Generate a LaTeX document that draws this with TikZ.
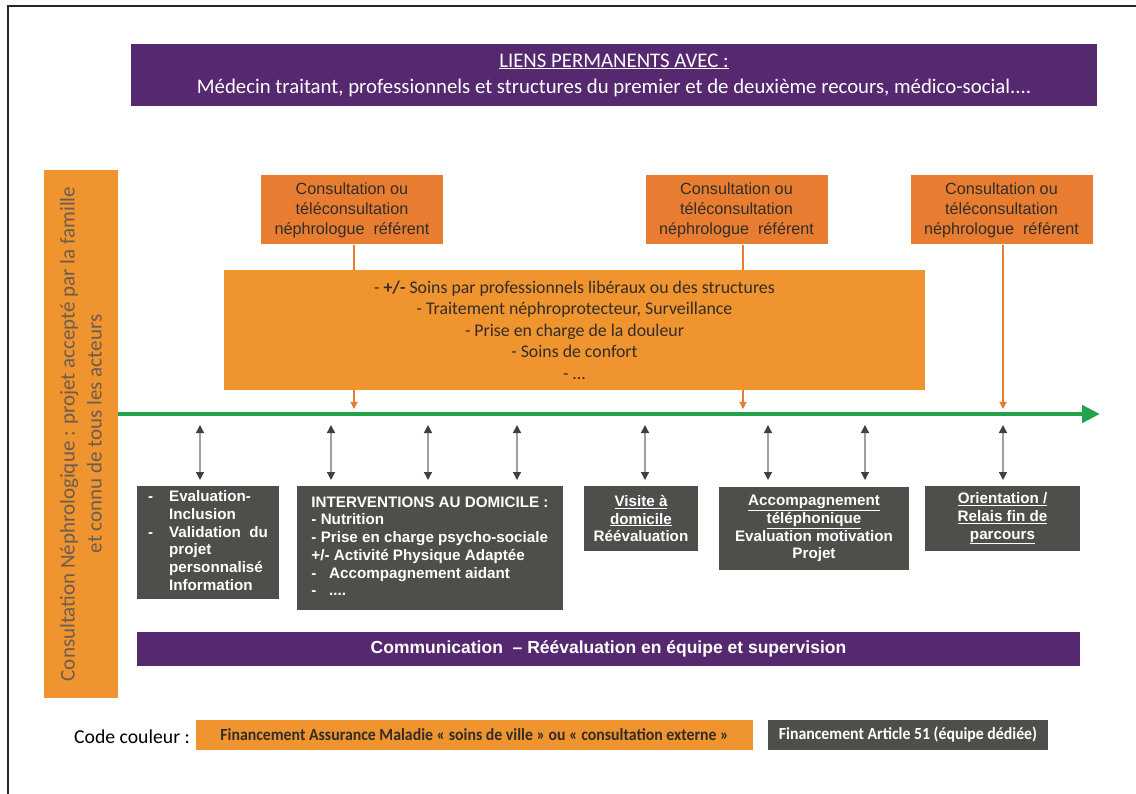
\documentclass[tikz,border=0pt]{standalone}
\usepackage{fontspec}
\setmainfont{Carlito}
\newfontfamily\arialf{Liberation Sans}
\usetikzlibrary{arrows.meta}
\definecolor{cpurple}{RGB}{85,40,111}
\definecolor{corange}{RGB}{239,148,47}
\definecolor{cdorange}{RGB}{232,125,50}
\definecolor{cgray}{RGB}{78,78,75}
\definecolor{cgreen}{RGB}{34,162,74}
\definecolor{ctext}{RGB}{50,45,40}
\definecolor{cvtext}{RGB}{110,92,78}
\definecolor{carrow}{RGB}{160,160,160}
\tikzset{
  box/.style={rectangle, inner sep=2pt, align=center},
  purplebox/.style={box, fill=cpurple, text=white},
  consbox/.style={box, fill=cdorange, text=ctext, minimum width=182, minimum height=69,
    font=\arialf\fontsize{16.2}{20}\selectfont},
  graybox/.style={box, fill=cgray, text=white, font=\arialf\bfseries\fontsize{15.2}{17.7}\selectfont},
  orangeline/.style={draw=cdorange, line width=1.2},
  orangearrow/.style={orangeline, -{Triangle[length=7, width=7]}},
  dblarrow/.style={draw=carrow, line width=1.3, {Triangle[length=8, width=8, color=black!75]}-{Triangle[length=8, width=8, color=black!75]}},
}
\begin{document}
\begin{tikzpicture}[x=1pt, y=-1pt]
\useasboundingbox (0,0) rectangle (1136,794);
\fill[white] (0,0) rectangle (1136,794);
% frame
\draw[line width=2, black!85] (8,794) -- (8,6) -- (1136,6);

% top banner
\node[purplebox, minimum width=966, minimum height=62, font=\fontsize{20.8}{26}\selectfont] (top) at (614,75)
  {\underline{LIENS PERMANENTS AVEC :}\\ Médecin traitant, professionnels et structures du premier et de deuxième recours, médico-social....};

% left vertical bar
\node[box, fill=corange, minimum width=74, minimum height=528] (left) at (81,434) {};
\node[rotate=90, text=cvtext, align=center, font=\fontsize{21}{27}\selectfont] (lefttext) at (left.center)
  {Consultation Néphrologique : projet accepté par la famille\\ et connu de tous les acteurs};

% consultation boxes
\node[consbox] (c1) at (352,210) {Consultation ou\\ téléconsultation\\ néphrologue\ \ référent};
\node[consbox] (c2) at (736.5,210) {Consultation ou\\ téléconsultation\\ néphrologue\ \ référent};
\node[consbox] (c3) at (1001.5,210) {Consultation ou\\ téléconsultation\\ néphrologue\ \ référent};

% big orange box
\node[box, fill=corange, text=ctext, minimum width=701, minimum height=120, font=\fontsize{17.8}{21.5}\selectfont] (big) at (574.5,330)
  {- \textbf{+/-} Soins par professionnels libéraux ou des structures\\
   - Traitement néphroprotecteur, Surveillance\\
   - Prise en charge de la douleur\\
   - Soins de confort\\
   - ...};

% green time line
\coordinate (gend) at (1100,414);
\draw[draw=cgreen, line width=4.5, -{Triangle[length=18, width=17]}] (left.east |- gend) -- (gend);

% orange connectors
\coordinate (o1) at (354,409);
\coordinate (o2) at (743,409);
\coordinate (o3) at (1003,409);
\draw[orangeline] (c1.south -| o1) -- (big.north -| o1);
\draw[orangearrow] (big.south -| o1) -- (o1);
\draw[orangeline] (c2.south -| o2) -- (big.north -| o2);
\draw[orangearrow] (big.south -| o2) -- (o2);
\draw[orangearrow] (c3.south -| o3) -- (o3);

% gray boxes
\node[graybox, minimum width=142, minimum height=113] (g1) at (208,542.5)
  {\begin{tabular}{@{}l@{\hspace{16pt}}l@{}}
   - & Evaluation-\\
     & Inclusion\\
   - & Validation\ \ du\\
     & projet\\
     & personnalisé\\
     & Information
   \end{tabular}};
\node[graybox, minimum width=266, minimum height=124] (g2) at (430,548)
  {\begin{tabular}{@{}l@{}}
   INTERVENTIONS AU DOMICILE :\\
   - Nutrition\\
   - Prise en charge psycho-sociale\\
   +/- Activité Physique Adaptée\\
   -\ \ \ Accompagnement aidant\\
   -\ \ \ ....
   \end{tabular}};
\node[graybox, minimum width=114, minimum height=65] (g3) at (641,518.5)
  {\underline{Visite à}\\ \underline{domicile}\\ Réévaluation};
\node[graybox, minimum width=190, minimum height=83] (g4) at (814,528.5)
  {\underline{Accompagnement}\\ \underline{téléphonique}\\ Evaluation motivation\\ Projet};
\node[graybox, minimum width=155, minimum height=65] (g5) at (1002.5,518.5)
  {\underline{Orientation /}\\ \underline{Relais fin de}\\ \underline{parcours}};

% double arrows
\foreach \i/\x in {1/200, 2/331, 3/428, 4/517, 5/645, 6/768, 7/865, 8/1003} {
  \coordinate (a\i) at (\x,425);
  \coordinate (b\i) at (\x,480);
  \draw[dblarrow] (a\i) -- (b\i);
}

% bottom purple bar
\node[purplebox, minimum width=943, minimum height=34, font=\arialf\bfseries\fontsize{17.5}{20}\selectfont] (comm) at (608.5,649)
  {Communication\ \ – Réévaluation en équipe et supervision};

% legend
\node[anchor=west, font=\fontsize{19.7}{22}\selectfont, inner sep=0] (code) at (74,737) {Code couleur :};
\node[box, fill=corange, text=ctext, minimum width=557, minimum height=30, font=\bfseries\fontsize{17}{18}\selectfont] (leg1) at (474.5,735)
  {\scalebox{0.93}[1]{Financement Assurance Maladie « soins de ville  » ou « consultation externe »}};
\node[box, fill=cgray, text=white, minimum width=280, minimum height=30, font=\bfseries\fontsize{17}{18}\selectfont] (leg2) at (908,735)
  {\scalebox{0.93}[1]{Financement Article 51 (équipe dédiée)}};
\end{tikzpicture}
\end{document}
